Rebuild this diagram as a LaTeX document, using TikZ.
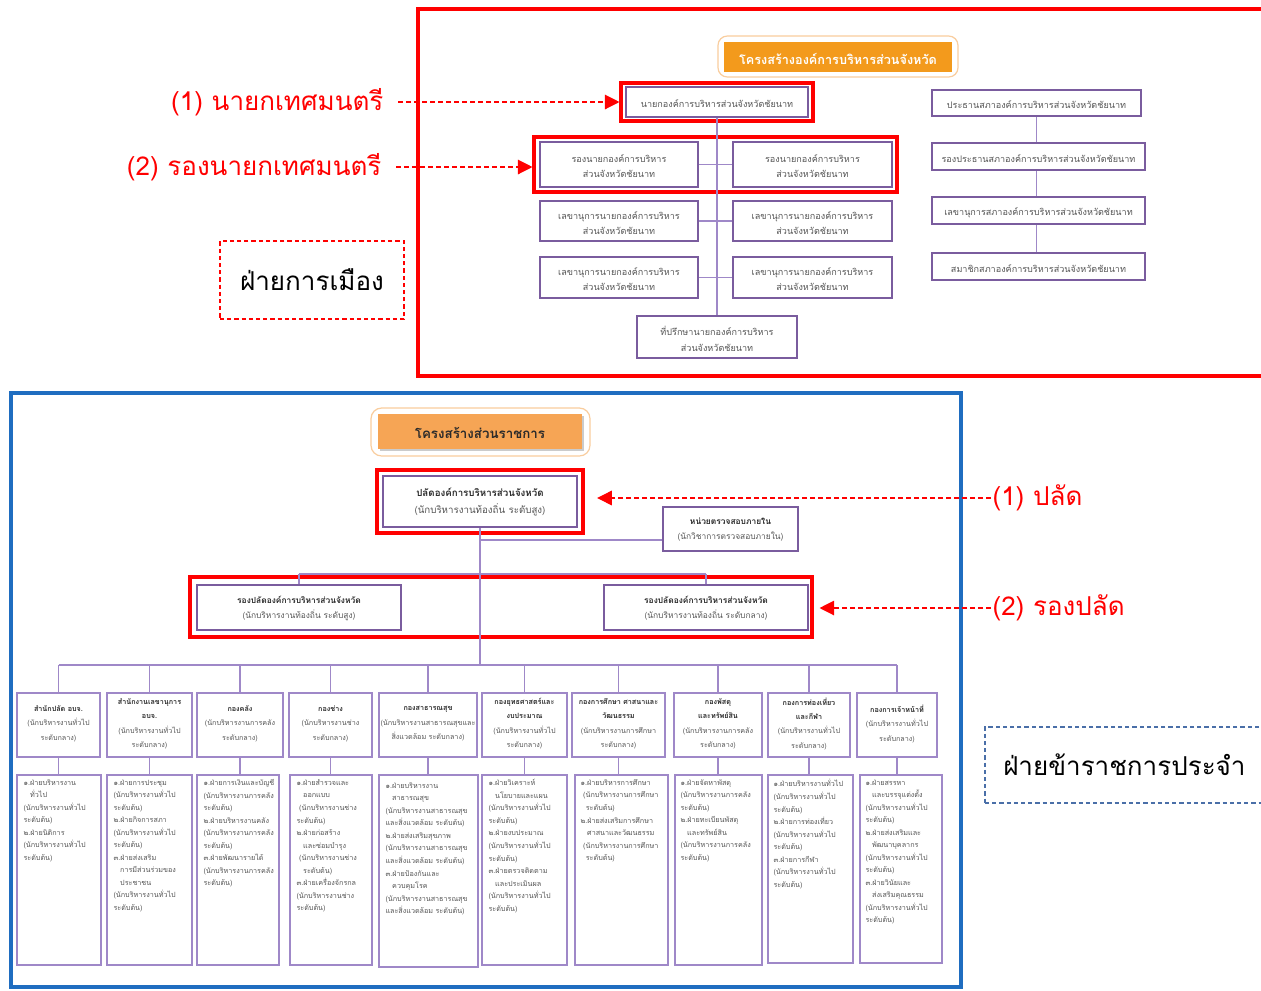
\documentclass[tikz,border=0pt]{standalone}
\usepackage{fontspec}
\newfontfamily\thai[Script=Thai]{Loma}
\usetikzlibrary{fit,arrows.meta,shadows}
\definecolor{purpD}{HTML}{7A5C9E}
\definecolor{purpL}{HTML}{9F88C8}
\definecolor{redc}{HTML}{FF0000}
\definecolor{bluec}{HTML}{1F6DC0}
\definecolor{txtg}{HTML}{555555}
\definecolor{txtb}{HTML}{2A2A2A}
\definecolor{orangeA}{HTML}{F39A1C}
\definecolor{orangeB}{HTML}{F6A555}
\definecolor{orangeL}{HTML}{F9CD9E}
\definecolor{dashblue}{HTML}{4A6FA8}
% box with centred text: box style, text style, name, fit corners, text
\newcommand\bx[5]{\node[#1,fit={#4}] (#3) {};\node[#2] (#3-t) at (#3.center) {#5};}
\begin{document}
\begin{tikzpicture}[x=0.75pt,y=-0.75pt,
  tb/.style={draw=purpD,line width=2.1pt,fill=white,inner sep=0pt},
  tbt/.style={align=center,text=txtg,inner sep=0pt,yshift=-1.4pt,font=\thai\fontsize{6.8}{11.5}\selectfont},
  rf/.style={draw=redc,line width=2.3pt,inner sep=0pt},
  conn/.style={draw=purpL,line width=1pt},
  bb/.style={draw=purpD,line width=1.8pt,fill=white,inner sep=0pt},
  bbt/.style={align=center,text=txtg,inner sep=0pt,yshift=-0.5pt,font=\thai\fontsize{6.3}{11.5}\selectfont},
  db/.style={draw=purpL,line width=1.1pt,fill=white,inner sep=0pt},
  dbt/.style={align=center,text=txtg,inner sep=0pt,yshift=1pt,font=\thai\fontsize{5.4}{10.8}\selectfont},
  eb/.style={draw=purpL,line width=1.1pt,fill=white,inner sep=0pt},
  etext/.style={anchor=north west,align=left,text=txtg,inner sep=0pt,font=\thai\fontsize{5.4}{9.4}\selectfont},
  lbl/.style={text=redc,inner sep=1pt,font=\thai\fontsize{19.5}{23}\selectfont},
  darr/.style={draw=redc,line width=0.9pt,dash pattern=on 3.6pt off 2.4pt,-{Triangle[length=11pt,width=11pt]}},
  dbox/.style={dash pattern=on 3.2pt off 2.2pt,line width=0.8pt,inner sep=0pt}
]
\clip (0,0) rectangle (1261,990);
\fill[white] (0,0) rectangle (1261,990);

% ---------------- top: political side ----------------
\node[draw=redc,line width=3pt,inner sep=0pt,fit={(418,9)(1300,376)}] (topframe) {};
\node[draw=orangeL,rounded corners=7pt,line width=0.9pt,inner sep=0pt,fit={(718,36)(958,77)}] (t1out) {};
\bx{fill=orangeA,inner sep=0pt}{text=white,inner sep=0pt,yshift=-1.8pt,font=\thai\bfseries\fontsize{9.5}{11}\selectfont}{t1}{(724,42)(952,72)}{โครงสร้างองค์การบริหารส่วนจังหวัด}

\bx{tb}{tbt}{mayor}{(626,87)(808,117)}{นายกองค์การบริหารส่วนจังหวัดชัยนาท}
\node[rf,fit={(621,83)(813,121)}] (rmayor) {};
\bx{tb}{tbt}{depL}{(540,142)(698,187)}{รองนายกองค์การบริหาร\\ส่วนจังหวัดชัยนาท}
\bx{tb}{tbt}{depR}{(733,142)(892,187)}{รองนายกองค์การบริหาร\\ส่วนจังหวัดชัยนาท}
\node[rf,fit={(534,137)(897,192)}] (rdep) {};
\bx{tb}{tbt}{secLa}{(540,201)(698,241)}{เลขานุการนายกองค์การบริหาร\\ส่วนจังหวัดชัยนาท}
\bx{tb}{tbt}{secRa}{(733,201)(892,241)}{เลขานุการนายกองค์การบริหาร\\ส่วนจังหวัดชัยนาท}
\bx{tb}{tbt}{secLb}{(540,257)(698,298)}{เลขานุการนายกองค์การบริหาร\\ส่วนจังหวัดชัยนาท}
\bx{tb}{tbt}{secRb}{(733,257)(892,298)}{เลขานุการนายกองค์การบริหาร\\ส่วนจังหวัดชัยนาท}
\bx{tb}{tbt}{adv}{(637,316)(797,358)}{ที่ปรึกษานายกองค์การบริหาร\\ส่วนจังหวัดชัยนาท}

\draw[conn] (mayor.south) -- (mayor.south |- adv.north);
\draw[conn] (depL.east) -- (depR.west);
\draw[conn] (secLa.east) -- (secRa.west);
\draw[conn] (secLb.east) -- (secRb.west);

\bx{tb}{tbt}{pres}{(932,90)(1141,116)}{ประธานสภาองค์การบริหารส่วนจังหวัดชัยนาท}
\bx{tb}{tbt}{vpres}{(932,143)(1145,170)}{รองประธานสภาองค์การบริหารส่วนจังหวัดชัยนาท}
\bx{tb}{tbt}{csec}{(932,197)(1145,224)}{เลขานุการสภาองค์การบริหารส่วนจังหวัดชัยนาท}
\bx{tb}{tbt}{mem}{(932,253)(1145,280)}{สมาชิกสภาองค์การบริหารส่วนจังหวัดชัยนาท}
\draw[conn] (pres.south) -- (pres.south |- vpres.north);
\draw[conn] (pres.south |- vpres.south) -- (pres.south |- csec.north);
\draw[conn] (pres.south |- csec.south) -- (pres.south |- mem.north);

\node[lbl,anchor=east] (l1) at (385,102) {(1) นายกเทศมนตรี};
\draw[darr] ([xshift=10pt]l1.east) -- (l1.east -| rmayor.west);
\node[lbl,anchor=east] (l2) at (383,167) {(2) รองนายกเทศมนตรี};
\draw[darr] ([xshift=10pt]l2.east) -- (l2.east -| rdep.west);

\bx{draw=redc,dbox}{inner sep=0pt,font=\thai\fontsize{19.5}{23}\selectfont}{pol}{(220,241)(404,319)}{ฝ่ายการเมือง}

% ---------------- bottom: civil service ----------------
\node[draw=bluec,line width=3pt,inner sep=0pt,fit={(11,393)(961,987)}] (botframe) {};
\node[draw=orangeL,rounded corners=8pt,line width=0.9pt,inner sep=0pt,fit={(371,408)(590,456)}] (t2out) {};
\bx{fill=orangeB,drop shadow={shadow xshift=1.2pt,shadow yshift=-1.2pt,fill=black!40},inner sep=0pt}{text=txtb,inner sep=0pt,yshift=-0.8pt,font=\thai\bfseries\fontsize{10}{12}\selectfont}{t2}{(378,414)(582,449)}{โครงสร้างส่วนราชการ}

\bx{bb}{bbt,font=\thai\fontsize{7.3}{12.5}\selectfont}{palad}{(383,476)(577,527)}{\textcolor{txtb}{\bfseries ปลัดองค์การบริหารส่วนจังหวัด}\\(นักบริหารงานท้องถิ่น ระดับสูง)}
\node[rf,fit={(377,470)(583,533)}] (rpalad) {};
\bx{bb}{bbt}{audit}{(663,507)(798,551)}{\textcolor{txtb}{\bfseries หน่วยตรวจสอบภายใน}\\(นักวิชาการตรวจสอบภายใน)}

\bx{bb}{bbt}{dpl}{(197,585)(401,630)}{\textcolor{txtb}{\bfseries รองปลัดองค์การบริหารส่วนจังหวัด}\\(นักบริหารงานท้องถิ่น ระดับสูง)}
\bx{bb}{bbt}{dpr}{(604,585)(808,630)}{\textcolor{txtb}{\bfseries รองปลัดองค์การบริหารส่วนจังหวัด}\\(นักบริหารงานท้องถิ่น ระดับกลาง)}
\node[rf,fit={(190,577)(812,637)}] (rdepP) {};

\coordinate (bus) at (481,665);
\coordinate (aj) at (481,540);
\coordinate (dj) at (481,574);
\draw[conn] (palad.south) -- (palad.south |- bus);
\draw[conn] (aj) -- (aj -| audit.west);
\draw[conn] (dj -| dpl.north) -- (dj -| dpr.north);
\draw[conn] (dj -| dpl.north) -- (dpl.north);
\draw[conn] (dj -| dpr.north) -- (dpr.north);

\node[lbl,anchor=west] (lp1) at (991,498) {(1) ปลัด};
\coordinate (p1tip) at ([xshift=9.5pt]rpalad.east);
\draw[darr] (lp1.west) -- (lp1.west -| p1tip);
\node[lbl,anchor=west] (lp2) at (991,608) {(2) รองปลัด};
\coordinate (p2tip) at ([xshift=4.5pt]rdepP.east);
\draw[darr] (lp2.west) -- (lp2.west -| p2tip);

\node[draw=dashblue,dbox,fit={(985,727)(1300,803)}] (civ) {};
\node[anchor=west,inner sep=0pt,font=\thai\fontsize{19.5}{23}\selectfont] (civt) at (1003,765) {ฝ่ายข้าราชการประจำ};

% departments
\bx{db}{dbt}{d1}{(17,693)(100,757)}{\textcolor{txtb}{\bfseries สำนักปลัด อบจ.}\\(นักบริหารงานทั่วไป\\ระดับกลาง)}
\bx{db}{dbt}{d2}{(107,693)(192,757)}{\textcolor{txtb}{\bfseries สำนักงานเลขานุการ}\\\textcolor{txtb}{\bfseries อบจ.}\\(นักบริหารงานทั่วไป\\ระดับกลาง)}
\bx{db}{dbt}{d3}{(197,693)(283,757)}{\textcolor{txtb}{\bfseries กองคลัง}\\(นักบริหารงานการคลัง\\ระดับกลาง)}
\bx{db}{dbt}{d4}{(289,693)(372,757)}{\textcolor{txtb}{\bfseries กองช่าง}\\(นักบริหารงานช่าง\\ระดับกลาง)}
\bx{db}{dbt}{d5}{(379,693)(477,757)}{\textcolor{txtb}{\bfseries กองสาธารณสุข}\\(นักบริหารงานสาธารณสุขและ\\สิ่งแวดล้อม ระดับกลาง)}
\bx{db}{dbt}{d6}{(482,693)(567,757)}{\textcolor{txtb}{\bfseries กองยุทธศาสตร์และ}\\\textcolor{txtb}{\bfseries งบประมาณ}\\(นักบริหารงานทั่วไป\\ระดับกลาง)}
\bx{db}{dbt}{d7}{(572,693)(665,757)}{\textcolor{txtb}{\bfseries กองการศึกษา ศาสนาและ}\\\textcolor{txtb}{\bfseries วัฒนธรรม}\\(นักบริหารงานการศึกษา\\ระดับกลาง)}
\bx{db}{dbt}{d8}{(674,693)(762,757)}{\textcolor{txtb}{\bfseries กองพัสดุ}\\\textcolor{txtb}{\bfseries และทรัพย์สิน}\\(นักบริหารงานการคลัง\\ระดับกลาง)}
\bx{db}{dbt}{d9}{(768,693)(850,757)}{\textcolor{txtb}{\bfseries กองการท่องเที่ยว}\\\textcolor{txtb}{\bfseries และกีฬา}\\(นักบริหารงานทั่วไป\\ระดับกลาง)}
\bx{db}{dbt}{d10}{(857,693)(937,757)}{\textcolor{txtb}{\bfseries กองการเจ้าหน้าที่}\\(นักบริหารงานทั่วไป\\ระดับกลาง)}

% detail boxes
\node[eb,fit={(17,775)(101,965)}] (e1) {};
\node[eb,fit={(107,775)(192,965)}] (e2) {};
\node[eb,fit={(197,775)(279,965)}] (e3) {};
\node[eb,fit={(290,775)(372,965)}] (e4) {};
\node[eb,fit={(379,775)(478,967)}] (e5) {};
\node[eb,fit={(482,775)(567,965)}] (e6) {};
\node[eb,fit={(575,775)(668,965)}] (e7) {};
\node[eb,fit={(675,775)(762,965)}] (e8) {};
\node[eb,fit={(768,775)(853,963)}] (e9) {};
\node[eb,fit={(860,775)(942,963)}] (e10) {};

\draw[conn] (d1.north |- bus) -- (d10.north |- bus);
\foreach \i in {1,...,10}{
  \draw[conn] (d\i.north |- bus) -- (d\i.north);
  \draw[conn] (d\i.south) -- (d\i.south |- e\i.north);
}

\node[etext] (x1) at ([shift={(7,5)}]e1.north west) {๑.ฝ่ายบริหารงาน\\\hspace*{5pt}ทั่วไป\\(นักบริหารงานทั่วไป\\ระดับต้น)\\๒.ฝ่ายนิติการ\\(นักบริหารงานทั่วไป\\ระดับต้น)};
\node[etext] (x2) at ([shift={(7,5)}]e2.north west) {๑.ฝ่ายการประชุม\\(นักบริหารงานทั่วไป\\ระดับต้น)\\๒.ฝ่ายกิจการสภา\\(นักบริหารงานทั่วไป\\ระดับต้น)\\๓.ฝ่ายส่งเสริม\\\hspace*{5pt}การมีส่วนร่วมของ\\\hspace*{5pt}ประชาชน\\(นักบริหารงานทั่วไป\\ระดับต้น)};
\node[etext] (x3) at ([shift={(7,5)}]e3.north west) {๑.ฝ่ายการเงินและบัญชี\\(นักบริหารงานการคลัง\\ระดับต้น)\\๒.ฝ่ายบริหารงานคลัง\\(นักบริหารงานการคลัง\\ระดับต้น)\\๓.ฝ่ายพัฒนารายได้\\(นักบริหารงานการคลัง\\ระดับต้น)};
\node[etext] (x4) at ([shift={(7,5)}]e4.north west) {๑.ฝ่ายสำรวจและ\\\hspace*{5pt}ออกแบบ\\\hspace*{2pt}(นักบริหารงานช่าง\\ระดับต้น)\\๒.ฝ่ายก่อสร้าง\\\hspace*{5pt}และซ่อมบำรุง\\\hspace*{2pt}(นักบริหารงานช่าง\\\hspace*{5pt}ระดับต้น)\\๓.ฝ่ายเครื่องจักรกล\\(นักบริหารงานช่าง\\ระดับต้น)};
\node[etext] (x5) at ([shift={(7,8)}]e5.north west) {๑.ฝ่ายบริหารงาน\\\hspace*{5pt}สาธารณสุข\\(นักบริหารงานสาธารณสุข\\และสิ่งแวดล้อม ระดับต้น)\\๒.ฝ่ายส่งเสริมสุขภาพ\\(นักบริหารงานสาธารณสุข\\และสิ่งแวดล้อม ระดับต้น)\\๓.ฝ่ายป้องกันและ\\\hspace*{5pt}ควบคุมโรค\\(นักบริหารงานสาธารณสุข\\และสิ่งแวดล้อม ระดับต้น)};
\node[etext] (x6) at ([shift={(7,5)}]e6.north west) {๑.ฝ่ายวิเคราะห์\\\hspace*{5pt}นโยบายและแผน\\(นักบริหารงานทั่วไป\\ระดับต้น)\\๒.ฝ่ายงบประมาณ\\(นักบริหารงานทั่วไป\\ระดับต้น)\\๓.ฝ่ายตรวจติดตาม\\\hspace*{5pt}และประเมินผล\\(นักบริหารงานทั่วไป\\ระดับต้น)};
\node[etext] (x7) at ([shift={(6,5)}]e7.north west) {๑.ฝ่ายบริหารการศึกษา\\\hspace*{2pt}(นักบริหารงานการศึกษา\\\hspace*{4pt}ระดับต้น)\\๒.ฝ่ายส่งเสริมการศึกษา\\\hspace*{5pt}ศาสนาและวัฒนธรรม\\\hspace*{2pt}(นักบริหารงานการศึกษา\\\hspace*{4pt}ระดับต้น)};
\node[etext] (x8) at ([shift={(6,5)}]e8.north west) {๑.ฝ่ายจัดหาพัสดุ\\(นักบริหารงานการคลัง\\ระดับต้น)\\๒.ฝ่ายทะเบียนพัสดุ\\\hspace*{5pt}และทรัพย์สิน\\(นักบริหารงานการคลัง\\ระดับต้น)};
\node[etext] (x9) at ([shift={(6,5)}]e9.north west) {๑.ฝ่ายบริหารงานทั่วไป\\(นักบริหารงานทั่วไป\\ระดับต้น)\\๒.ฝ่ายการท่องเที่ยว\\(นักบริหารงานทั่วไป\\ระดับต้น)\\๓.ฝ่ายการกีฬา\\(นักบริหารงานทั่วไป\\ระดับต้น)};
\node[etext] (x10) at ([shift={(6,5)}]e10.north west) {๑.ฝ่ายสรรหา\\\hspace*{5pt}และบรรจุแต่งตั้ง\\(นักบริหารงานทั่วไป\\ระดับต้น)\\๒.ฝ่ายส่งเสริมและ\\\hspace*{5pt}พัฒนาบุคลากร\\(นักบริหารงานทั่วไป\\ระดับต้น)\\๓.ฝ่ายวินัยและ\\\hspace*{5pt}ส่งเสริมคุณธรรม\\(นักบริหารงานทั่วไป\\ระดับต้น)};
\end{tikzpicture}
\end{document}
